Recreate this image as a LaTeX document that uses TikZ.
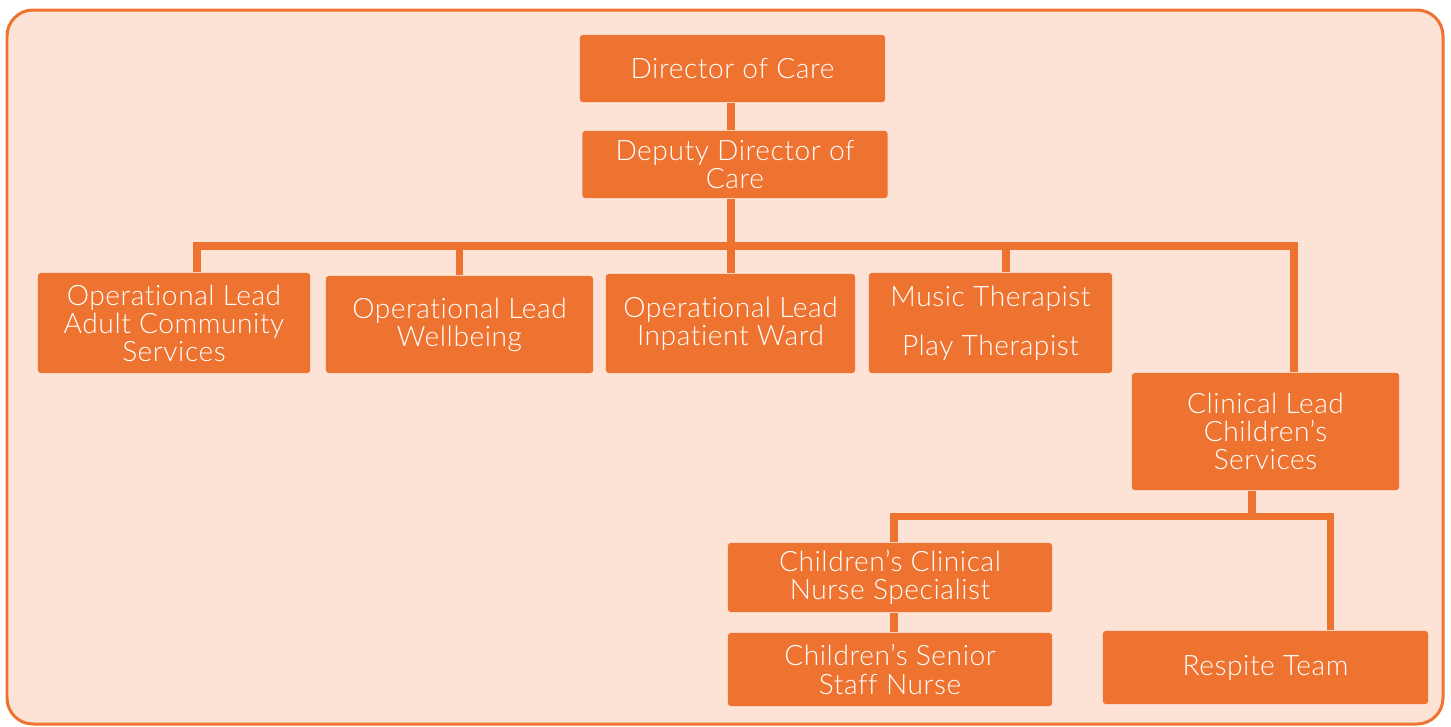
\documentclass[tikz,border=0pt]{standalone}
\usepackage{fontspec}
\setmainfont{Lato Light}[LetterSpace=2, Ligatures={NoCommon,NoRare,NoContextual,NoHistoric}]
\definecolor{orgc}{RGB}{238,115,48}
\definecolor{bgc}{RGB}{252,227,214}
\tikzset{
  box/.style={fill=orgc, rounded corners=0.8pt, text=white, align=center, inner sep=0pt,
    font=\fontsize{8}{8}\selectfont},
  link/.style={draw=orgc, line width=2pt, line join=miter}
}

\begin{document}
\begin{tikzpicture}[x=0.01cm,y=-0.01cm]
\useasboundingbox (0,0) rectangle (1451,726);
\filldraw [fill=bgc, draw=orgc, line width=0.85pt, rounded corners=0.26cm] (7,10) rectangle (1443,724);
% junction points
\coordinate (barL) at (197,246);
\coordinate (barR) at (1294,246);
\coordinate (subL) at (894,516);
\coordinate (subM) at (1252,516);
\coordinate (subR) at (1330.5,516);
% boxes
\node [box, minimum width=3.05cm, minimum height=0.67cm] (dir) at (732.5,68.5) {Director of Care};
\node [box, minimum width=3.05cm, minimum height=0.67cm] (dep) at (735,164.5) {Deputy Director of\\Care};
\node [box, minimum width=2.72cm, minimum height=1cm] (adult) at (174,323) {Operational Lead\\Adult Community\\Services};
\node [box, minimum width=2.67cm, minimum height=0.97cm] (well) at (459.5,324.5) {Operational Lead\\Wellbeing};
\node [box, minimum width=2.49cm, minimum height=0.99cm] (inp) at (730.5,323.5) {Operational Lead\\Inpatient Ward};
\node [box, minimum width=2.43cm, minimum height=1cm] (ther) at (990.5,323) {Music Therapist\\[6pt]Play Therapist};
\node [box, minimum width=2.67cm, minimum height=1.17cm] (clin) at (1265.5,431.5) {Clinical Lead\\Children's\\Services};
\node [box, minimum width=3.24cm, minimum height=0.69cm] (cns) at (890,577.5) {Children's Clinical\\Nurse Specialist};
\node [box, minimum width=3.24cm, minimum height=0.73cm] (snr) at (890,669.5) {Children's Senior\\Staff Nurse};
\node [box, minimum width=3.25cm, minimum height=0.73cm] (resp) at (1265.5,667.5) {Respite Team};
% connectors
\draw [link] (dir.south -| 731,0) -- (dep.north -| 731,0);
\draw [link] (dep.south -| 731,0) -- (inp.north -| 731,0);
\draw [link] (barL |- adult.north) -- (barL) -- (barR) -- (barR |- clin.north);
\draw [link] (barL -| well.north) -- (well.north);
\draw [link] (barL -| 1006,0) -- (ther.north -| 1006,0);
\draw [link] (clin.south -| subM) -- (subM);
\draw [link] (subL |- cns.north) -- (subL) -- (subR) -- (subR |- resp.north);
\draw [link] (cns.south -| subL) -- (snr.north -| subL);
\end{tikzpicture}
\end{document}
